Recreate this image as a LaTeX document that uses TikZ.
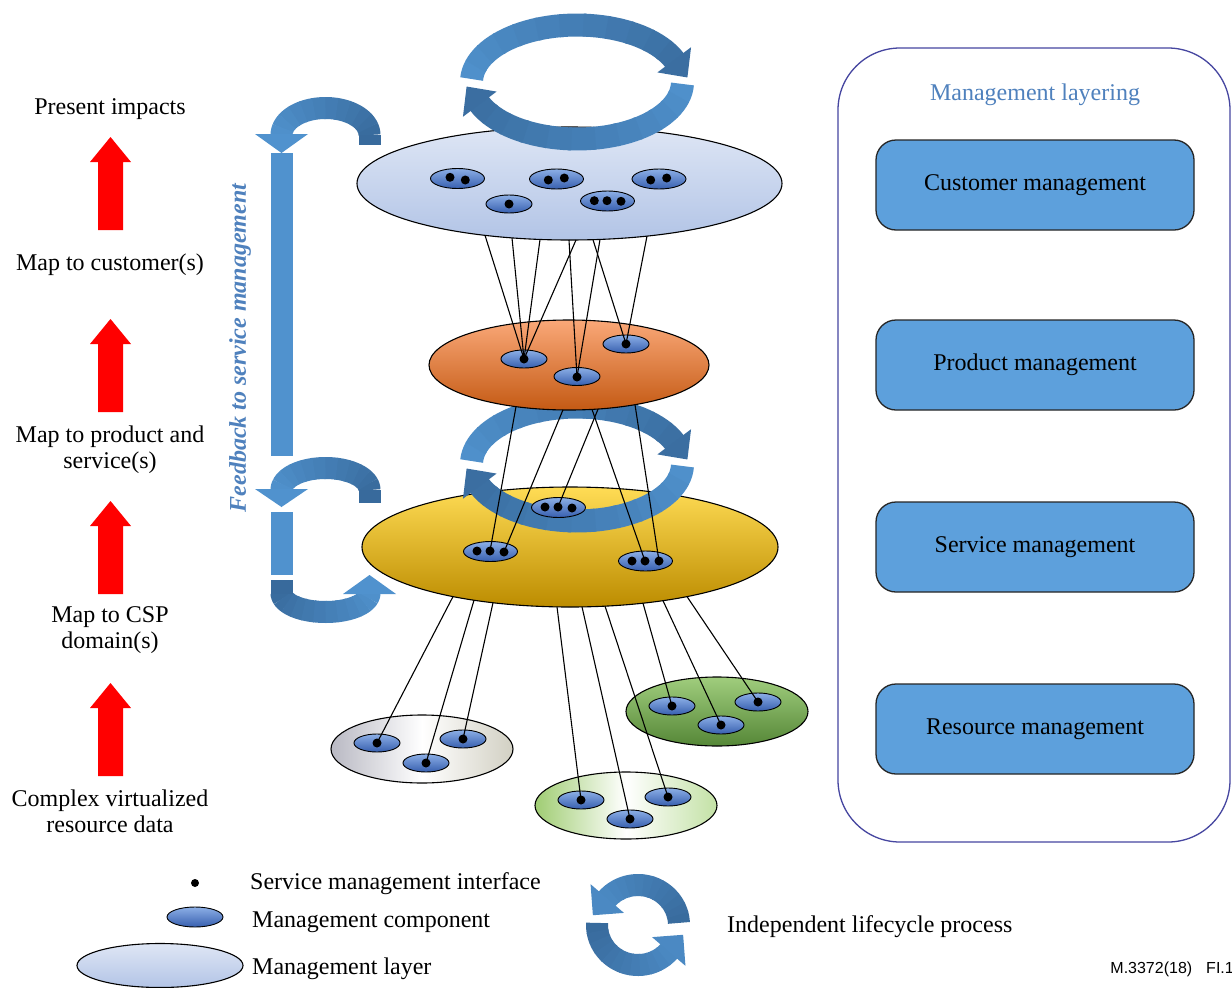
\documentclass[tikz,border=0pt]{standalone}
\usepackage{fontspec}
\setmainfont{Liberation Serif}
\newfontfamily\figsans{Liberation Sans}
\usetikzlibrary{shapes.geometric}
\definecolor{arrLight}{RGB}{80,146,206}
\definecolor{arrDark}{RGB}{56,106,156}
\definecolor{panelC}{RGB}{70,70,160}
\definecolor{boxC}{RGB}{93,160,220}
\definecolor{titleC}{RGB}{79,129,189}
\definecolor{compT}{RGB}{140,175,230}
\definecolor{compB}{RGB}{55,95,175}
\definecolor{topT}{RGB}{222,230,245}
\definecolor{topB}{RGB}{178,196,230}
\definecolor{orT}{RGB}{250,168,120}
\definecolor{orB}{RGB}{196,90,20}
\definecolor{yeT}{RGB}{255,220,85}
\definecolor{yeB}{RGB}{188,140,0}
\definecolor{grL}{RGB}{185,185,195}
\definecolor{grR}{RGB}{210,208,195}
\definecolor{lgL}{RGB}{160,205,115}
\definecolor{lgR}{RGB}{195,225,165}
\definecolor{dgT}{RGB}{160,205,125}
\definecolor{dgB}{RGB}{85,135,55}

% band arc: cx, cy, a, b, start, end, mode, width
\newcommand{\bandarc}[8]{%
  \foreach \k in {0,...,11}{%
    \pgfmathsetmacro{\baA}{(#5)+((#6)-(#5))*\k/12}%
    \pgfmathsetmacro{\baB}{(#5)+((#6)-(#5))*(\k+1)/12+(\k<11?((#6)>(#5)?1.5:-1.5):0)}%
    \pgfmathsetmacro{\baM}{(\baA+\baB)/2}%
    \pgfmathtruncatemacro{\baP}{(#7)==0?max(0,min(100,-(\baM)/1.8)):max(0,min(100,100-(\baM)/1.8))}%
    \draw[line width=#8pt, color=arrLight!\baP!arrDark] plot[domain=\baA:\baB, samples=5] ({#1+(#3)*cos(\x)},{#2+(#4)*sin(\x)});
  }%
}
% head: cx, cy, a, b, angle, direction, width, length, colour
\newcommand{\bandhead}[9]{%
  \pgfmathsetmacro{\bhTx}{-(#6)*(#3)*sin(#5)}%
  \pgfmathsetmacro{\bhTy}{(#6)*(#4)*cos(#5)}%
  \pgfmathsetmacro{\bhN}{veclen(\bhTx,\bhTy)}%
  \pgfmathsetmacro{\bhUx}{(\bhTx)/(\bhN)}%
  \pgfmathsetmacro{\bhUy}{(\bhTy)/(\bhN)}%
  \pgfmathsetmacro{\bhPx}{(#1)+(#3)*cos(#5)-(\bhUx)}%
  \pgfmathsetmacro{\bhPy}{(#2)+(#4)*sin(#5)-(\bhUy)}%
  \fill[#9] ({\bhPx-(\bhUy)*(#7)/2},{\bhPy+(\bhUx)*(#7)/2}) -- ({\bhPx+(\bhUy)*(#7)/2},{\bhPy-(\bhUx)*(#7)/2}) -- ({\bhPx+(\bhUx)*(#8+1)},{\bhPy+(\bhUy)*(#8+1)}) -- cycle;
}
% red block arrow: x, y of tip
\newcommand{\redarrow}[2]{%
  \fill[red] (#1,#2) -- ({#1+20.5},{#2+25}) -- ({#1+12.5},{#2+25}) -- ({#1+12.5},{#2+93}) -- ({#1-12.5},{#2+93}) -- ({#1-12.5},{#2+25}) -- ({#1-20.5},{#2+25}) -- cycle;
}

\begin{document}
\begin{tikzpicture}[x=1pt,y=-1pt,
  txt/.style={font=\fontsize{24}{26}\selectfont, inner sep=0pt, align=center},
  mlayer/.style={ellipse, draw=black, line width=1.1pt, inner sep=0pt},
  mcomp/.style={ellipse, draw=black, line width=0.9pt, top color=compT, bottom color=compB, inner sep=0pt, minimum width=46pt, minimum height=18pt},
  compw/.style={mcomp, minimum width=54pt, minimum height=20pt},
  sdot/.style={circle, fill=black, inner sep=0pt, minimum size=9pt},
  conn/.style={draw=black, line width=1.1pt},
  mbox/.style={draw=black!85, line width=1.3pt, fill=boxC, rounded corners=20pt, minimum width=318pt, minimum height=90pt, txt}
]
\useasboundingbox (0,0) rectangle (1232,988);
\fill[white] (0,0) rectangle (1232,988);

% ---------- right panel ----------
\node[draw=panelC, line width=1.3pt, rounded corners=62pt, minimum width=392pt, minimum height=794pt, inner sep=0pt] (panel) at (1034,445) {};
\node[txt, text=titleC] (ptitle) at (1035,95) {Management layering};
\node[mbox] (cust) at (1035,185) {Customer management};
\node[mbox] (prod) at (1035,365) {Product management};
\node[mbox] (serv) at (1035,547) {Service management};
\node[mbox] (res) at (1035,729) {Resource management};

% ---------- left column ----------
\node[txt] (t1) at (110,109) {Present impacts};
\node[txt] (t2) at (110,265) {Map to customer(s)};
\node[txt] (t3) at (110,450) {Map to product and\\service(s)};
\node[txt] (t4) at (110,630) {Map to CSP\\domain(s)};
\node[txt] (t5) at (110,811) {Complex virtualized\\resource data};
\redarrow{110.5}{137}
\redarrow{110.5}{319}
\redarrow{110.5}{501}
\redarrow{110.5}{683}

% ---------- feedback arrow ----------
\node[txt, rotate=90, text=titleC, font=\fontsize{24}{26}\selectfont\bfseries\itshape] (fb) at (240,348) {Feedback to service management};
\fill[arrLight] (270.5,153) rectangle (292.5,456);
\fill[arrLight] (270.5,512) rectangle (292.5,575);
\bandarc{325.5}{135}{44}{27}{0}{-180}{0}{22}
\fill[arrDark] (358.5,134.5) rectangle (380.5,145);
\bandhead{325.5}{135}{44}{27}{-180}{-1}{53}{18}{arrLight}
\bandarc{325.5}{490}{44}{22}{0}{-180}{0}{22}
\fill[arrDark] (358.5,489.5) rectangle (380.5,503);
\bandhead{325.5}{490}{44}{22}{-180}{-1}{53}{17}{arrLight}
\bandarc{325.5}{593}{44}{19}{180}{0}{1}{22}
\fill[arrDark] (270.5,580) rectangle (292.5,593.5);
\bandhead{325.5}{593}{44}{19}{0}{-1}{53}{18}{arrLight}

% ---------- layers ----------
\node[mlayer, top color=yeT, bottom color=yeB, minimum width=416pt, minimum height=120pt] (Ly) at (570,547) {};
\node[mlayer, left color=grL, right color=grR, middle color=white, minimum width=182pt, minimum height=68pt] (Lg) at (422,749) {};
\node[mlayer, left color=lgL, right color=lgR, middle color=white, minimum width=182pt, minimum height=67pt] (Llg) at (626,805.5) {};
\node[mlayer, top color=dgT, bottom color=dgB, minimum width=182pt, minimum height=69pt] (Ldg) at (717,711.5) {};

% middle lifecycle
\bandarc{577}{464}{105.5}{57}{-177}{-22}{0}{23}
\bandhead{577}{464}{105.5}{57}{-22}{1}{42}{21}{arrLight!11!arrDark}
\bandarc{577}{464}{105.5}{57}{2}{158}{1}{23}
\bandhead{577}{464}{105.5}{57}{158}{1}{42}{21}{arrLight!11!arrDark}

\node[mlayer, top color=orT, bottom color=orB, minimum width=280pt, minimum height=90pt] (Lo) at (569,365) {};
\node[mlayer, top color=topT, bottom color=topB, minimum width=425pt, minimum height=113pt] (Lt) at (569.5,183.5) {};

% top lifecycle
\bandarc{577}{82}{105.5}{57}{-177}{-22}{0}{23}
\bandhead{577}{82}{105.5}{57}{-22}{1}{42}{21}{arrLight!11!arrDark}
\bandarc{577}{82}{105.5}{57}{2}{158}{1}{23}
\bandhead{577}{82}{105.5}{57}{158}{1}{42}{21}{arrLight!11!arrDark}

% ---------- components ----------
\node[compw] (T1) at (457.5,178.5) {};
\node[compw] (T2) at (556.5,179) {};
\node[compw] (T3) at (659,179) {};
\node[mcomp] (T4) at (509,204) {};
\node[compw] (T5) at (607.5,201) {};
\node[mcomp] (O1) at (524,359) {};
\node[mcomp] (O2) at (577,376.5) {};
\node[mcomp] (O3) at (626,344) {};
\node[compw] (Y1) at (490.5,551.5) {};
\node[compw] (Y2) at (558.5,507.5) {};
\node[compw] (Y3) at (645.5,561) {};
\node[mcomp] (G1) at (377,743) {};
\node[mcomp] (G2) at (426,763) {};
\node[mcomp] (G3) at (463,739) {};
\node[mcomp] (LG1) at (581,800) {};
\node[mcomp] (LG2) at (630,819) {};
\node[mcomp] (LG3) at (668,797) {};
\node[mcomp] (DG1) at (672,706) {};
\node[mcomp] (DG2) at (721,725) {};
\node[mcomp] (DG3) at (758,702) {};

% interface points
\coordinate (O1d) at (524,359);
\coordinate (O2d) at (577,377);
\coordinate (O3d) at (626,344);
\coordinate (Y1b) at (490,551);
\coordinate (Y1c) at (504,552);
\coordinate (Y2b) at (558,507);
\coordinate (Y3b) at (645,561);
\coordinate (Y3c) at (659,561);
\coordinate (G1d) at (377,743);
\coordinate (G2d) at (426,763);
\coordinate (G3d) at (463,739);
\coordinate (LG1d) at (581,800);
\coordinate (LG2d) at (630,819);
\coordinate (LG3d) at (668,797);
\coordinate (DG1d) at (672,706);
\coordinate (DG2d) at (721,725);
\coordinate (DG3d) at (758,702);

% connector ends on layer borders
\coordinate (ta1) at (485,235.3);
\coordinate (ta2) at (512,237.9);
\coordinate (ta3) at (540,239.5);
\coordinate (ta4) at (576,240);
\coordinate (ta5) at (569,240);
\coordinate (ta6) at (600,239.4);
\coordinate (ta7) at (593,239.8);
\coordinate (ta8) at (647,236.1);
\coordinate (oa1) at (516,406.6);
\coordinate (oa2) at (563,409.8);
\coordinate (oa3) at (598,409.2);
\coordinate (oa4) at (592,409.4);
\coordinate (oa5) at (635,404.7);
\coordinate (ya1) at (453,596.6);
\coordinate (ya2) at (474,600.2);
\coordinate (ya3) at (493,602.7);
\coordinate (ya4) at (557,606.8);
\coordinate (ya5) at (582,606.8);
\coordinate (ya6) at (605,606.1);
\coordinate (ya7) at (643,603.2);
\coordinate (ya8) at (663,600.7);
\coordinate (ya9) at (687,596.6);

\draw[conn] (ta1) -- (O1d);
\draw[conn] (ta2) -- (O1d);
\draw[conn] (ta3) -- (O1d);
\draw[conn] (ta4) -- (O1d);
\draw[conn] (ta5) -- (O2d);
\draw[conn] (ta6) -- (O2d);
\draw[conn] (ta7) -- (O3d);
\draw[conn] (ta8) -- (O3d);
\draw[conn] (oa1) -- (Y1b);
\draw[conn] (oa2) -- (Y1c);
\draw[conn] (oa3) -- (Y2b);
\draw[conn] (oa4) -- (Y3b);
\draw[conn] (oa5) -- (Y3c);
\draw[conn] (ya1) -- (G1d);
\draw[conn] (ya2) -- (G2d);
\draw[conn] (ya3) -- (G3d);
\draw[conn] (ya4) -- (LG1d);
\draw[conn] (ya5) -- (LG2d);
\draw[conn] (ya6) -- (LG3d);
\draw[conn] (ya7) -- (DG1d);
\draw[conn] (ya8) -- (DG2d);
\draw[conn] (ya9) -- (DG3d);

% dots
\foreach \p/\n in {{(450,177.3)}/d1,{(465.3,180)}/d2,{(548.3,180)}/d3,{(564.3,178)}/d4,{(650.7,180)}/d5,{(666.7,178)}/d6,{(509,204)}/d7,{(594.3,200.7)}/d8,{(607,200.7)}/d9,{(621,201.3)}/d10,
  {(524,359)}/d11,{(577,377)}/d12,{(626,344)}/d13,
  {(477,551)}/d14,{(490,551)}/d15,{(504,552)}/d16,{(545,507)}/d17,{(558,507)}/d18,{(572,508)}/d19,{(632,561)}/d20,{(645,561)}/d21,{(659,561)}/d22,
  {(377,743)}/d23,{(426,763)}/d24,{(463,739)}/d25,{(581,800)}/d26,{(630,819)}/d27,{(668,797)}/d28,{(672,706)}/d29,{(721,725)}/d30,{(758,702)}/d31}
  \node[sdot] (\n) at \p {};

% ---------- legend ----------
\node[sdot, minimum size=8pt] (lgdot) at (195,883) {};
\node[mcomp, minimum width=56pt, minimum height=20pt] (lgcomp) at (195,917) {};
\node[mlayer, top color=topT, bottom color=topB, minimum width=166pt, minimum height=44pt] (lglayer) at (160,965.5) {};
\node[txt, anchor=west] (lgt1) at (250,884) {Service management interface};
\node[txt, anchor=west] (lgt2) at (252,922) {Management component};
\node[txt, anchor=west] (lgt3) at (252,969) {Management layer};
\bandarc{638}{925}{41}{40}{-3}{-140}{0}{22}
\bandhead{638}{925}{41}{40}{-140}{-1}{44}{21}{arrLight!78!arrDark}
\bandarc{638}{925}{41}{40}{183}{40}{1}{22}
\bandhead{638}{925}{41}{40}{40}{-1}{44}{21}{arrLight!78!arrDark}
\node[txt, anchor=west] (lgt4) at (727,927) {Independent lifecycle process};
\node[font=\figsans\fontsize{16}{18}\selectfont, anchor=east, inner sep=0pt] (figid) at (1234,969) {M.3372(18)\hspace{14pt}FI.1};
\end{tikzpicture}
\end{document}
